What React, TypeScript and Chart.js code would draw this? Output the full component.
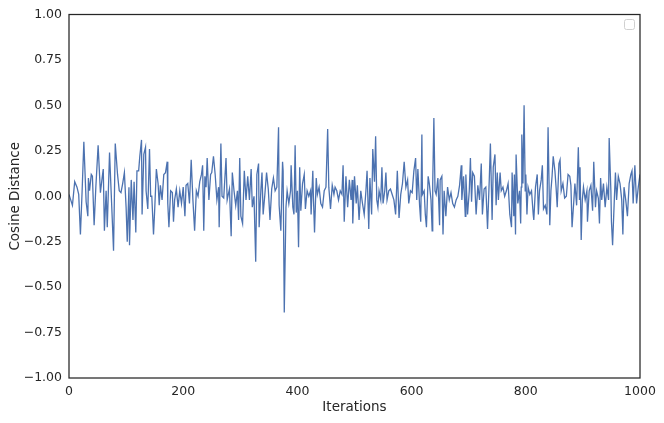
import React, { useEffect, useRef } from "react";
import { Chart, registerables } from "chart.js";

Chart.register(...registerables);

const iterations: number[] = [
  0, 3, 6, 10, 14, 17, 20, 23, 26, 30, 33, 34, 36, 39, 41, 44, 47, 51, 53, 55, 58, 60, 62, 65, 67,
  71, 74, 78, 81, 85, 88, 91, 94, 97, 100, 102, 105, 106, 109, 112, 114, 117, 119, 122, 124,
  127, 128, 131, 134, 135, 138, 141, 143, 145, 148, 150, 153, 156, 158, 160, 163, 166, 169, 172, 173,
  175, 178, 181, 183, 185, 188, 191, 194, 197, 200, 203, 205, 208, 211, 214, 217, 220, 223, 226, 229,
  232, 234, 236, 238, 240, 242, 245, 248, 250,
  253, 256, 259, 262, 263, 266, 268, 271, 275, 277, 281, 284, 286, 289, 292, 295, 297, 299, 301, 304,
  307, 310, 313, 316, 319, 321, 324, 327, 329, 332, 333, 336, 338, 340, 343, 346, 349, 352, 355, 358,
  361, 364, 367, 368, 371, 374, 375, 377,
  380, 382, 385, 388, 389, 392, 394, 396, 398, 400, 402, 404, 406, 409, 412, 414, 417, 420, 423, 424,
  427, 428, 430, 433, 435, 438, 441, 444, 447, 450, 453, 455, 458, 461, 464, 466, 469, 472, 475, 478,
  480, 482, 485, 488, 491, 494, 496, 497, 500, 503,
  505, 508, 511, 514, 517, 520, 522, 525, 527, 530, 532, 535, 537, 539, 541, 543, 546, 548, 550, 553,
  555, 557, 560, 563, 566, 569, 572, 575, 578, 581, 584, 587, 590, 593, 595, 598, 601, 604, 607, 609,
  611, 614, 616, 618, 619, 622, 624, 626, 629,
  631, 634, 636, 637, 639, 641, 643, 646, 649, 650, 653, 655, 657, 660, 663, 666, 669, 672, 675, 678,
  681, 684, 687, 688, 691, 694, 695, 698, 701, 703, 705, 707, 710, 713, 716, 719, 722, 724, 727, 730,
  733, 736, 738, 741, 743, 746, 748, 750, 752, 755,
  757, 760, 763, 766, 769, 772, 775, 776, 779, 780, 782, 783, 786, 789, 791, 792, 793, 795, 797, 799,
  800, 802, 804, 807, 810, 813, 814, 817, 820, 822, 824, 827, 829, 831, 834, 837, 839, 842, 844, 846,
  848, 851, 853, 855, 858, 860, 862, 865, 868, 871, 874, 877, 879, 881,
  884, 886, 889, 892, 894, 895, 897, 899, 901, 904, 907, 908, 911, 914, 917, 919, 922, 924, 927, 929,
  931, 933, 936, 939, 942, 945, 946, 949, 950, 952, 955, 957, 959, 962, 965, 968, 970, 972, 975, 978,
  981, 984, 986, 988, 991, 994, 997, 1000,
];

// Cosine distance at each sampled iteration
const cosineDistance: number[] = [
  0.01, -0.02, -0.05, 0.08, 0.05, 0.01, -0.21, 0.03, 0.30, -0.03, -0.11, 0.10, 0.03, 0.12, 0.11,
  -0.16, 0.05, 0.28, 0.15, 0.02, 0.10, 0.15, -0.19, 0.03, -0.17, 0.24, 0.01, -0.30, 0.29, 0.12,
  0.03, 0.02, 0.07, 0.13, -0.06, -0.25, 0.05, -0.27, 0.09, -0.13, 0.08, -0.20, 0.14, 0.14, 0.22,
  0.31, -0.10, 0.23, 0.27, 0.03, -0.07, 0.26, 0.00, 0.00, -0.21, -0.08, 0.15, 0.07, -0.05, 0.06,
  -0.02, 0.12, 0.13, 0.19, -0.04, -0.17, 0.03, 0.02, -0.14, -0.02, 0.04, -0.06, 0.03, -0.04, 0.05,
  -0.11, 0.06, 0.07, -0.04, 0.20, -0.02, -0.19, 0.03, 0.00, 0.08, 0.12, 0.17, -0.19, 0.11, 0.05,
  0.21, -0.02, 0.12, 0.13,
  0.22, 0.12, -0.02, 0.05, -0.17, 0.29, 0.00, -0.01, 0.21, -0.02, 0.04, -0.22, 0.13, 0.03, -0.05,
  0.03, -0.13, 0.21, -0.11, -0.15, 0.14, -0.02, 0.11, -0.02, 0.15, -0.06, 0.00, -0.36, 0.12, 0.18,
  -0.17, 0.03, 0.13, -0.10, 0.01, 0.13, 0.04, -0.13, 0.04, 0.10, 0.03, 0.05, 0.38, -0.05, -0.19,
  0.19, 0.14, -0.64,
  -0.06, 0.03, -0.04, 0.03, 0.17, -0.06, -0.10, 0.28, -0.09, 0.03, -0.28, 0.16, -0.08, 0.07, 0.12,
  -0.07, 0.03, 0.00, 0.03, -0.10, 0.14, 0.00, -0.20, 0.10, 0.01, 0.05, -0.04, -0.06, 0.03, 0.05,
  0.37, 0.05, -0.07, 0.06, 0.01, 0.05, 0.03, -0.02, 0.03, 0.01, 0.17, -0.14, 0.11, -0.06, 0.09,
  -0.02, 0.09, -0.15, 0.11, -0.04,
  0.06, -0.13, 0.03, -0.04, -0.10, 0.03, 0.14, -0.18, 0.10, -0.10, 0.26, 0.08, 0.33, -0.02, -0.06,
  0.03, -0.02, 0.16, -0.04, 0.03, 0.13, -0.02, 0.03, 0.04, 0.01, -0.02, -0.10, 0.14, -0.12, 0.01,
  0.07, 0.19, 0.05, 0.09, -0.04, 0.03, 0.02, 0.14, 0.21, -0.02, 0.15, -0.05, -0.14, 0.34, 0.01,
  0.03, -0.10, -0.17, 0.11,
  0.07, -0.02, -0.19, 0.07, 0.43, 0.03, 0.01, 0.10, -0.16, 0.09, 0.11, -0.21, 0.03, -0.11, 0.05,
  -0.02, 0.02, -0.04, -0.06, -0.02, 0.00, 0.06, 0.17, -0.02, 0.11, -0.11, 0.12, -0.10, 0.03, 0.21,
  -0.03, 0.13, 0.11, -0.10, 0.06, -0.02, 0.18, -0.10, 0.04, 0.05, -0.18, 0.09, 0.29, -0.13, 0.16,
  0.23, -0.05, 0.13, -0.02, 0.13,
  0.03, 0.05, 0.00, 0.03, 0.07, -0.10, -0.17, 0.13, -0.11, 0.12, -0.21, 0.23, -0.04, 0.03, -0.15,
  0.05, 0.34, 0.07, 0.50, 0.03, 0.12, -0.10, 0.05, 0.01, 0.03, -0.10, -0.13, 0.05, 0.12, -0.10,
  0.03, 0.09, 0.17, -0.07, -0.05, -0.10, 0.38, -0.16, 0.03, 0.11, 0.22, 0.14, 0.05, -0.06, 0.18,
  0.20, 0.03, 0.07, -0.01, 0.00, 0.12, 0.11, 0.06, -0.17,
  -0.03, 0.07, -0.05, 0.27, -0.02, 0.16, -0.24, -0.02, 0.05, -0.02, 0.03, -0.14, 0.03, 0.06, -0.08,
  0.19, -0.06, 0.03, -0.01, -0.15, 0.10, -0.02, 0.07, -0.06, 0.05, -0.02, 0.32, 0.03, -0.14, -0.27,
  -0.02, 0.13, -0.02, 0.11, 0.07, -0.02, -0.21, 0.05, -0.02, -0.11, 0.07, 0.12, 0.14, -0.04, 0.17,
  -0.04, 0.05, 0.12,
];

const xTicks: number[] = [0, 200, 400, 600, 800, 1000];
const yTicks: number[] = [-1, -0.75, -0.5, -0.25, 0, 0.25, 0.5, 0.75, 1];

const FONT = "'DejaVu Sans', sans-serif";
const TEXT = "#262626";

const framePlugin = {
  id: "frame",
  afterDatasetsDraw(chart: any) {
    const { ctx, chartArea } = chart;
    ctx.save();
    ctx.strokeStyle = "#262626";
    ctx.lineWidth = 1.25;
    ctx.strokeRect(chartArea.left, chartArea.top, chartArea.right - chartArea.left, chartArea.bottom - chartArea.top);
    // empty legend box (top-right)
    const w = 10, h = 10, r = 2;
    const x = chartArea.right - 15.5, y = chartArea.top + 5;
    ctx.beginPath();
    ctx.moveTo(x + r, y);
    ctx.lineTo(x + w - r, y);
    ctx.quadraticCurveTo(x + w, y, x + w, y + r);
    ctx.lineTo(x + w, y + h - r);
    ctx.quadraticCurveTo(x + w, y + h, x + w - r, y + h);
    ctx.lineTo(x + r, y + h);
    ctx.quadraticCurveTo(x, y + h, x, y + h - r);
    ctx.lineTo(x, y + r);
    ctx.quadraticCurveTo(x, y, x + r, y);
    ctx.closePath();
    ctx.fillStyle = "rgba(255,255,255,0.8)";
    ctx.fill();
    ctx.strokeStyle = "#d0d0d0";
    ctx.lineWidth = 1;
    ctx.stroke();
    ctx.restore();
  },
};

export default function App() {
  const ref = useRef<HTMLCanvasElement | null>(null);
  useEffect(() => {
    if (!ref.current) return;
    const n = Math.min(iterations.length, cosineDistance.length);
    const points = [];
    for (let i = 0; i < n; i++) points.push({ x: iterations[i], y: cosineDistance[i] });
    const chart = new Chart(ref.current, {
      type: "line",
      data: {
        datasets: [
          {
            data: points,
            borderColor: "#4c72b0",
            borderWidth: 1.3,
            pointRadius: 0,
            tension: 0,
            fill: false,
          },
        ],
      },
      options: {
        animation: false,
        responsive: false,
        devicePixelRatio: 1,
        layout: { padding: { top: 14, right: 24, left: 0, bottom: 0 } },
        plugins: { legend: { display: false }, tooltip: { enabled: false }, title: { display: false } },
        scales: {
          x: {
            type: "linear",
            min: 0,
            max: 1000,
            afterFit: (s: any) => { s.height = 45; },
            afterBuildTicks: (s: any) => { s.ticks = xTicks.map((v) => ({ value: v })); },
            grid: { display: false, drawTicks: false },
            border: { display: false },
            ticks: {
              color: TEXT,
              font: { family: FONT, size: 12.5 },
              padding: 6,
              maxRotation: 0,
              callback: (v: any) => String(Math.round(Number(v))),
            },
            title: { display: true, text: "Iterations", color: TEXT, font: { family: FONT, size: 13.5 }, padding: { top: 0, bottom: 7 } },
          },
          y: {
            min: -1,
            max: 1,
            afterFit: (s: any) => { s.width = 69; },
            afterBuildTicks: (s: any) => { s.ticks = yTicks.map((v) => ({ value: v })); },
            grid: { display: false, drawTicks: false },
            border: { display: false },
            ticks: {
              color: TEXT,
              font: { family: FONT, size: 12.5 },
              padding: 7,
              callback: (v: any) => Number(v).toFixed(2).replace("-", "\u2212"),
            },
            title: { display: true, text: "Cosine Distance", color: TEXT, font: { family: FONT, size: 13.5 }, padding: { top: 7, bottom: 0 } },
          },
        },
      },
      plugins: [framePlugin],
    });
    return () => chart.destroy();
  }, []);
  return (
    <div style={{ position: "absolute", left: 0, top: 0, width: 664, height: 423, background: "#fff" }}>
      <canvas ref={ref} width={664} height={423} />
    </div>
  );
}
